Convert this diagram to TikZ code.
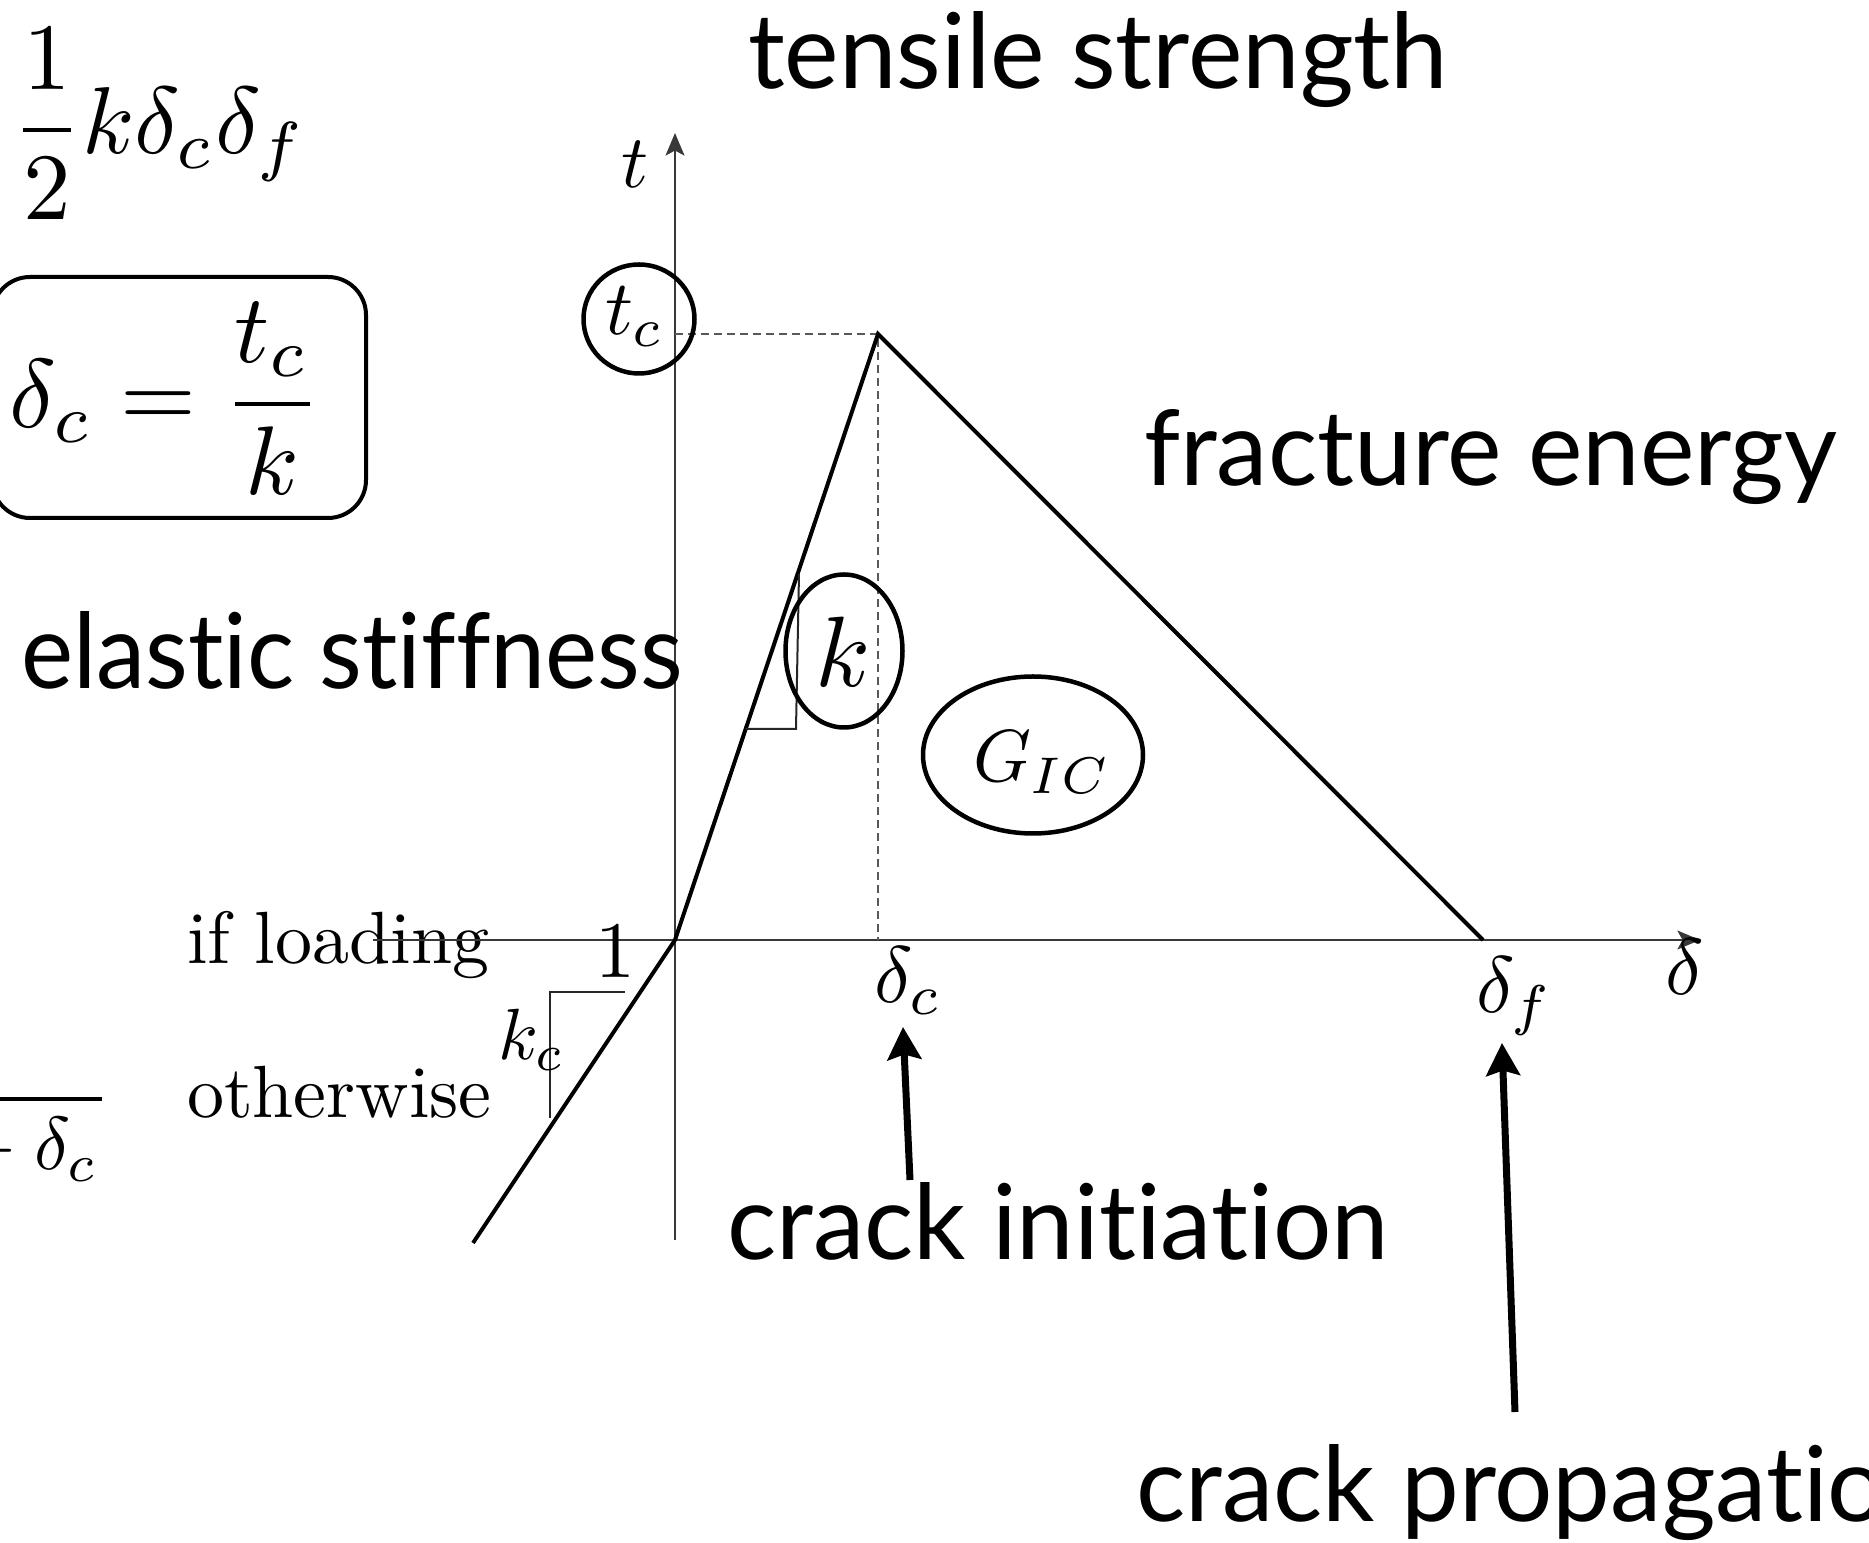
\documentclass[tikz,border=0pt]{standalone}
\usepackage{fontspec}
\newfontfamily\sansfont[Ligatures=NoCommon]{Lato}
\usetikzlibrary{arrows.meta,shapes.geometric}
\newsavebox\refbox
\newdimen\refw
\newdimen\refh
\newcommand\scm[2]{\scalebox{#1}{$#2$}}
\newcommand\scd[2]{\scalebox{#1}{$\displaystyle #2$}}
\newcommand\sct[2]{\scalebox{#1}{#2}}
\begin{document}%
\sbox\refbox{\sansfont crack initiation}%
\global\refw=\wd\refbox
\global\refh=\ht\refbox
\pgfmathsetmacro\sx{264.8/\refw}%
\pgfmathsetmacro\sy{30.8/\refh}%
\begin{tikzpicture}[x=0.4pt,y=-0.4pt,
  lbl/.style={inner sep=0pt, outer sep=0pt, anchor=base west},
  sanstext/.style={inner sep=0pt, outer sep=0pt, anchor=base west},
  axisline/.style={draw=black!78, line width=1.1pt, -{Stealth[length=9pt,width=7.5pt,inset=2pt]}},
  curve/.style={line width=1.6pt, line join=miter},
  guide/.style={draw=black!65, line width=0.8pt, dash pattern=on 3.2pt off 2pt},
  slope/.style={line width=0.8pt, draw=black!85},
  ring/.style={draw, ellipse, line width=1.8pt, inner sep=0pt, outer sep=0pt},
  callout/.style={line width=2.8pt, -{Stealth[length=13pt,width=13.5pt,inset=2pt]}}
]
\useasboundingbox (0,0) rectangle (1869,1543);
\clip (0,0) rectangle (1869,1543);

% coordinates of the graph
\coordinate (O) at (675,940);
\coordinate (P) at (878,334);
\coordinate (F) at (1483,940);
\coordinate (N) at (473,1243);
\coordinate (xs) at (373,940);
\coordinate (xe) at (1700,940);
\coordinate (ys) at (675,1240);
\coordinate (ye) at (675,133);
\coordinate (tcax) at (675,334);
\coordinate (dcax) at (878,940);
\coordinate (ka) at (745.7,729);
\coordinate (kb) at (796,729);
\coordinate (kt) at (799,574);
\coordinate (ca) at (625,992);
\coordinate (cb) at (550,992);
\coordinate (cc) at (550,1118);
\coordinate (ai) at (910,1180);
\coordinate (at) at (903,1027);
\coordinate (pi) at (1515,1412);
\coordinate (pt) at (1502,1043);
\coordinate (bl) at (-10,1099);
\coordinate (br) at (102,1099);

% texts at left
\node[lbl] (energy) at (12,154) {\scd{3.8}{\frac{1}{2}k\delta_c\delta_f}};
\node[draw, rounded corners=15.2pt, line width=1.6pt, inner sep=0pt,
      minimum width=149.6pt, minimum height=96.4pt] (ebox) at (179,397.5) {};
\node[lbl] (dcform) at (10,428) {\scd{3.9}{\delta_c=\frac{t_c}{k}}};
\node[lbl] (ifl) at (187,964) {\sct{2.96}{if loading}};
\node[lbl] (othw) at (187,1118) {\sct{2.96}{otherwise}};
\draw[line width=1.5pt] (bl) -- (br);
\node[inner sep=0pt, anchor=base east] (den) at (99,1170) {\scm{3.0}{{}-\delta_c}};

% axes
\draw[axisline] (xs) -- (xe);
\draw[axisline] (ys) -- (ye);
\draw[guide] (tcax) -- (P) -- (dcax);
\draw[curve] (N) -- (O) -- (P) -- (F);
\draw[slope] (ka) -- (kb) -- (kt);
\draw[slope] (ca) -- (cb) -- (cc);

% labels in graph
\node[lbl] (tlab) at (621,188) {\scm{3.0}{t}};
\node[lbl] (tclab) at (605,335) {\scm{3.1}{t_c}};
\node[ring, minimum width=44.4pt, minimum height=43.6pt] (tcring) at (639,319) {};
\node[lbl] (klab) at (815,687) {\scm{4.0}{k}};
\node[ring, minimum width=46.8pt, minimum height=61.2pt] (kring) at (844,651) {};
\node[lbl] (glab) at (973,782) {\scm{2.95}{G_{IC}}};
\node[ring, minimum width=88pt, minimum height=62.8pt] (gring) at (1033,755) {};
\node[lbl] (dclab) at (874,1003) {\scm{3.2}{\delta_c}};
\node[lbl] (dflab) at (1476,1013) {\scm{3.2}{\delta_f}};
\node[lbl] (dlab) at (1665,995) {\scm{3.2}{\delta}};
\node[lbl, anchor=base] (onelab) at (615,978) {\scm{3.2}{1}};
\node[lbl] (kclab) at (498,1060) {\scm{2.9}{k_c}};

% callout arrows
\draw[callout] (ai) -- (at);
\draw[callout] (pi) -- (pt);

% sans texts
\node[sanstext] (tensile) at (748,89) {\scalebox{\sx}[\sy]{\sansfont tensile strength}};
\node[sanstext] (fracture) at (1144,486) {\scalebox{\sx}[\sy]{\sansfont fracture energy}};
\node[sanstext] (elastic) at (21,689) {\resizebox{264.8pt}{30.8pt}{\sansfont elastic stiffness}};
\node[sanstext] (initiation) at (727,1260) {\scalebox{\sx}[\sy]{\sansfont crack initiation}};
\node[sanstext] (propagation) at (1136,1522) {\scalebox{\sx}[\sy]{\sansfont crack propagation}};
\end{tikzpicture}
\end{document}
